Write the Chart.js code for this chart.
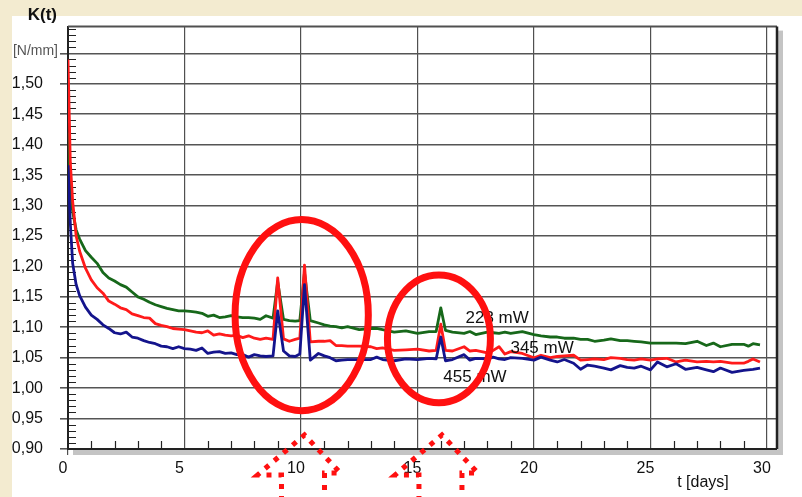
<!DOCTYPE html>
<html>
<head>
<meta charset="utf-8">
<title>K(t)</title>
<script src="https://cdn.jsdelivr.net/npm/chart.js@4.4.1/dist/chart.umd.min.js"></script>
<style>
  html, body { margin: 0; padding: 0; background: #fff; }
  #grafico { display: block; }
</style>
</head>
<body>
<canvas id="grafico" width="802" height="497"></canvas>
<script>
// tiempo en dias
const tDias = [0, 0.1, 0.2, 0.35, 0.5, 0.75, 1.0, 1.25, 1.5, 1.75, 2.0, 2.25, 2.5, 2.75, 3.0, 3.25, 3.5, 3.75, 4.0, 4.25,
  4.5, 4.75, 5.0, 5.25, 5.5, 5.75, 6.0, 6.25, 6.5, 6.75, 7.0, 7.25, 7.5, 7.75, 8.0, 8.25, 8.5, 8.8, 9.0, 9.25,
  9.5, 9.75, 9.95, 10.15, 10.4, 10.75, 11.0, 11.25, 11.5, 11.75, 12.0, 12.5, 13.0, 13.25, 13.5, 14.0, 14.5, 15.0, 15.5, 15.8,
  16.0, 16.2, 16.5, 17.0, 17.25, 17.5, 18.0, 18.25, 18.5, 18.75, 19.0, 19.5, 20.0, 20.3, 20.7, 21.0, 21.3, 21.7, 22.0, 22.3,
  22.6, 23.0, 23.3, 23.7, 24.0, 24.3, 24.6, 25.0, 25.3, 25.7, 26.1, 26.5, 27.0, 27.4, 27.7, 28.0, 28.5, 29.0, 29.2, 29.4, 29.7];

// K(t) [N/mm] para cada potencia
const k223 = [1.42, 1.33, 1.29, 1.26, 1.245, 1.226, 1.215, 1.205, 1.19, 1.181, 1.176, 1.170, 1.166, 1.158, 1.150, 1.146, 1.141, 1.137, 1.134, 1.131,
  1.129, 1.127, 1.127, 1.126, 1.125, 1.123, 1.118, 1.120, 1.116, 1.117, 1.119, 1.117, 1.116, 1.116, 1.115, 1.113, 1.119, 1.115, 1.175, 1.113,
  1.111, 1.110, 1.111, 1.19, 1.111, 1.107, 1.104, 1.102, 1.101, 1.099, 1.101, 1.096, 1.098, 1.098, 1.096, 1.092, 1.094, 1.090, 1.093, 1.093,
  1.132, 1.095, 1.092, 1.090, 1.093, 1.088, 1.092, 1.091, 1.090, 1.092, 1.090, 1.093, 1.088, 1.086, 1.084, 1.084, 1.082, 1.082, 1.080, 1.080,
  1.077, 1.079, 1.081, 1.078, 1.078, 1.077, 1.076, 1.074, 1.074, 1.074, 1.074, 1.073, 1.077, 1.070, 1.074, 1.068, 1.072, 1.072, 1.069, 1.073, 1.071];

const k345 = [1.54, 1.37, 1.307, 1.25, 1.225, 1.197, 1.178, 1.165, 1.156, 1.143, 1.138, 1.132, 1.129, 1.122, 1.119, 1.116, 1.115, 1.106, 1.103, 1.101,
  1.098, 1.097, 1.096, 1.094, 1.092, 1.091, 1.094, 1.087, 1.089, 1.087, 1.086, 1.087, 1.083, 1.086, 1.082, 1.080, 1.082, 1.080, 1.181, 1.081,
  1.077, 1.080, 1.082, 1.202, 1.076, 1.077, 1.077, 1.078, 1.070, 1.070, 1.069, 1.069, 1.068, 1.065, 1.066, 1.062, 1.063, 1.064, 1.061, 1.062,
  1.105, 1.062, 1.061, 1.068, 1.061, 1.062, 1.058, 1.062, 1.068, 1.056, 1.060, 1.057, 1.050, 1.054, 1.050, 1.052, 1.053, 1.054, 1.046, 1.047,
  1.048, 1.047, 1.050, 1.049, 1.047, 1.046, 1.048, 1.046, 1.048, 1.049, 1.043, 1.046, 1.043, 1.044, 1.043, 1.044, 1.041, 1.041, 1.044, 1.048, 1.043];

const k455 = [1.366, 1.27, 1.205, 1.17, 1.152, 1.133, 1.12, 1.113, 1.104, 1.098, 1.091, 1.089, 1.092, 1.084, 1.082, 1.078, 1.075, 1.073, 1.069, 1.068,
  1.065, 1.068, 1.065, 1.064, 1.062, 1.066, 1.057, 1.059, 1.060, 1.057, 1.058, 1.055, 1.055, 1.051, 1.055, 1.053, 1.052, 1.053, 1.127, 1.061,
  1.053, 1.052, 1.056, 1.170, 1.046, 1.057, 1.053, 1.050, 1.045, 1.046, 1.047, 1.047, 1.047, 1.051, 1.047, 1.045, 1.048, 1.047, 1.049, 1.048,
  1.084, 1.045, 1.047, 1.055, 1.046, 1.049, 1.048, 1.051, 1.048, 1.047, 1.050, 1.049, 1.046, 1.051, 1.046, 1.043, 1.047, 1.041, 1.031, 1.038,
  1.036, 1.033, 1.030, 1.037, 1.034, 1.033, 1.036, 1.030, 1.043, 1.035, 1.040, 1.031, 1.034, 1.030, 1.027, 1.033, 1.026, 1.029, 1.030, 1.031, 1.033];

const xTicks = [0, 5, 10, 15, 20, 25, 30];
const yTicks = [0.90, 0.95, 1.00, 1.05, 1.10, 1.15, 1.20, 1.25, 1.30, 1.35, 1.40, 1.45, 1.50, 1.55];
const etiquetas = ['223 mW', '345 mW', '455 mW'];

// anotaciones (en unidades de datos)
const rotulos = [
  { texto: etiquetas[0], t: 17.06, k: 1.1145 },
  { texto: etiquetas[1], t: 18.99, k: 1.066 },
  { texto: etiquetas[2], t: 16.11, k: 1.0177 }
];
const elipses = [
  { t: 10.03, k: 1.120, rt: 2.86, rk: 0.157 },
  { t: 15.92, k: 1.081, rt: 2.21, rk: 0.105 }
];
const flechas = [10.15, 16.05];

const ROJO = '#ff1010';
const FUENTE = "'Liberation Sans', Arial, sans-serif";

function serie(valores) {
  return valores.map((v, i) => ({ x: tDias[i], y: v }));
}

const decoracion = {
  id: 'decoracion',
  beforeDraw(chart) {
    const ctx = chart.ctx;
    ctx.save();
    ctx.fillStyle = '#ffffff';
    ctx.fillRect(0, 0, chart.width, chart.height);
    ctx.fillStyle = '#f3ebd0';
    ctx.fillRect(0, 0, chart.width, 16);
    ctx.fillRect(0, 0, 12, chart.height);
    ctx.restore();
  },
  beforeDatasetsDraw(chart) {
    const ctx = chart.ctx;
    const a = chart.chartArea;
    const x = chart.scales.x, y = chart.scales.y;
    ctx.save();
    // sombras
    ctx.fillStyle = '#c4c4c4';
    ctx.fillRect(a.right + 1, a.top + 4, 5, a.bottom - a.top + 2);
    ctx.fillRect(a.left + 5, a.bottom + 1, a.right - a.left + 1, 5);
    // ticks menores
    ctx.strokeStyle = '#222';
    ctx.lineWidth = 1.2;
    ctx.beginPath();
    for (let i = 91; i <= 159; i++) {
      if (i % 5 === 0) continue;
      const py = Math.round(y.getPixelForValue(i / 100)) + 0.5;
      ctx.moveTo(a.left, py);
      ctx.lineTo(a.left + 8, py);
    }
    for (let d = 1; d <= 30; d++) {
      if (d % 5 === 0) continue;
      const px = Math.round(x.getPixelForValue(d)) + 0.5;
      ctx.moveTo(px, a.bottom);
      ctx.lineTo(px, a.bottom - 8);
    }
    ctx.stroke();
    // marco superior y derecho
    ctx.strokeStyle = '#505050';
    ctx.lineWidth = 2;
    ctx.beginPath();
    ctx.moveTo(a.left, a.top);
    ctx.lineTo(a.right, a.top);
    ctx.stroke();
    ctx.strokeStyle = '#222';
    ctx.lineWidth = 2.5;
    ctx.beginPath();
    ctx.moveTo(a.right, a.top);
    ctx.lineTo(a.right, a.bottom);
    ctx.stroke();
    ctx.restore();
  },
  afterDatasetsDraw(chart) {
    const ctx = chart.ctx;
    const a = chart.chartArea;
    const x = chart.scales.x, y = chart.scales.y;
    ctx.save();
    // textos de las series
    ctx.fillStyle = '#111';
    ctx.font = '17px ' + FUENTE;
    ctx.textAlign = 'left';
    ctx.textBaseline = 'middle';
    rotulos.forEach(r => ctx.fillText(r.texto, x.getPixelForValue(r.t), y.getPixelForValue(r.k)));

    // elipses rojas
    const pxDia = x.getPixelForValue(1) - x.getPixelForValue(0);
    const pxK = y.getPixelForValue(1) - y.getPixelForValue(1.1);
    ctx.strokeStyle = ROJO;
    ctx.lineWidth = 7;
    elipses.forEach(e => {
      ctx.beginPath();
      ctx.ellipse(x.getPixelForValue(e.t), y.getPixelForValue(e.k), e.rt * pxDia, e.rk * pxK * 10, 0, 0, Math.PI * 2);
      ctx.stroke();
    });

    // flechas punteadas
    ctx.lineWidth = 5;
    ctx.setLineDash([5, 7]);
    flechas.forEach(t => {
      const cx = x.getPixelForValue(t);
      const b = a.bottom;
      ctx.beginPath();
      ctx.moveTo(cx - 23, chart.height + 4);
      ctx.lineTo(cx - 23, b + 26);
      ctx.lineTo(cx - 47, b + 26);
      ctx.lineTo(cx, b - 14);
      ctx.lineTo(cx + 36, b + 24);
      ctx.lineTo(cx + 20, b + 24);
      ctx.lineTo(cx + 20, chart.height + 4);
      ctx.stroke();
    });
    ctx.setLineDash([]);

    // titulos de ejes
    ctx.fillStyle = '#111';
    ctx.textAlign = 'right';
    ctx.font = 'bold 17px ' + FUENTE;
    ctx.fillText('K(t)', 57, 15);
    ctx.fillStyle = '#555';
    ctx.font = '14px ' + FUENTE;
    ctx.fillText('[N/mm]', 58, 51);
    ctx.fillStyle = '#111';
    ctx.textAlign = 'center';
    ctx.font = '16px ' + FUENTE;
    ctx.fillText('t [days]', a.right - 74, a.bottom + 34);
    ctx.restore();
  }
};

new Chart(document.getElementById('grafico'), {
  type: 'line',
  data: {
    datasets: [
      { label: etiquetas[2], data: serie(k455), borderColor: '#14148c', borderWidth: 2.8 },
      { label: etiquetas[1], data: serie(k345), borderColor: '#ff1a1a', borderWidth: 2.8 },
      { label: etiquetas[0], data: serie(k223), borderColor: '#17681a', borderWidth: 2.8 }
    ]
  },
  options: {
    responsive: false,
    animation: false,
    events: [],
    elements: {
      point: { radius: 0 },
      line: { tension: 0, borderJoinStyle: 'round', fill: false }
    },
    layout: { padding: { top: 19, right: 25, left: 0, bottom: 0 } },
    plugins: {
      legend: { display: false },
      title: { display: false },
      tooltip: { enabled: false }
    },
    scales: {
      x: {
        type: 'linear',
        min: 0,
        max: 30.43,
        afterBuildTicks: s => { s.ticks = xTicks.map(v => ({ value: v })); },
        afterFit: s => { s.height = 48; },
        grid: { color: '#505050', lineWidth: 1.2, tickLength: 6, drawTicks: true },
        border: { display: true, color: '#222', width: 2 },
        ticks: {
          color: '#111',
          font: { family: FUENTE, size: 16 },
          padding: 4,
          labelOffset: -5,
          maxRotation: 0,
          autoSkip: false,
          callback: v => String(v)
        }
      },
      y: {
        type: 'linear',
        min: 0.9,
        max: 1.594,
        afterBuildTicks: s => { s.ticks = yTicks.map(v => ({ value: v })); },
        afterFit: s => { s.width = 68; },
        grid: { color: '#555', lineWidth: 1.6, tickLength: 8, drawTicks: true },
        border: { display: true, color: '#222', width: 2 },
        ticks: {
          color: '#111',
          font: { family: FUENTE, size: 16 },
          padding: 17,
          autoSkip: false,
          callback: v => (v <= 1.501 ? v.toFixed(2).replace('.', ',') : '')
        }
      }
    }
  },
  plugins: [decoracion]
});
</script>
</body>
</html>
